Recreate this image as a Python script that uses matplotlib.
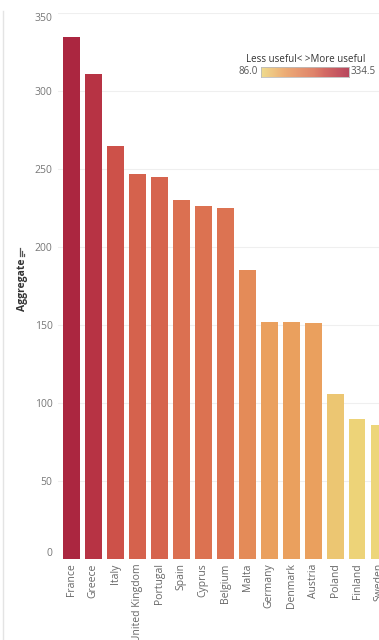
import matplotlib
matplotlib.use("Agg")
import matplotlib.pyplot as plt
from matplotlib.colors import LinearSegmentedColormap, Normalize
from matplotlib.lines import Line2D
import numpy as np

plt.rcParams['font.family'] = ['Open Sans', 'DejaVu Sans']

# data
countries = ["France", "Greece", "Italy", "United Kingdom", "Portugal", "Spain",
             "Cyprus", "Belgium", "Malta", "Germany", "Denmark", "Austria",
             "Poland", "Finland", "Sweden"]
aggregate = [334.5, 311, 265, 247, 245, 230, 226, 225, 185, 152, 152, 151,
             106, 90, 86.0]
y_ticks = [0, 50, 100, 150, 200, 250, 300, 350]
legend_title = "Less useful< >More useful"
vmin, vmax = 86.0, 334.5

# red-gold sequential palette
cmap = LinearSegmentedColormap.from_list("redgold", [
    (0.0, "#EDD67A"),
    (0.26, "#EAA05E"),
    (0.40, "#E48A58"),
    (0.60, "#DA6D50"),
    (0.72, "#CD5149"),
    (0.90, "#B83444"),
    (1.0, "#AB2640"),
])
norm = Normalize(vmin=vmin, vmax=vmax)

W, H = 379, 640
fig = plt.figure(figsize=(W / 100, H / 100), dpi=100)
ax = fig.add_axes([58 / W, 81 / H, 1 - 58 / W, (559 - 13) / H])

x = np.arange(len(countries))
ax.bar(x, aggregate, width=0.77, color=[cmap(norm(v)) for v in aggregate],
       zorder=2)

ax.set_xlim(-0.61, 13.93)
ax.set_ylim(0, 350)
ax.set_yticks(y_ticks)
ax.set_yticklabels([str(t) for t in y_ticks])
ax.set_xticks(x)
ax.set_xticklabels(countries, rotation=90)
ax.tick_params(axis='both', length=0, colors="#777777", labelsize=7.5)
ax.tick_params(axis='y', pad=4)
ax.tick_params(axis='x', pad=3, colors="#666666")
ylabs = ax.get_yticklabels()
ylabs[0].set_va('bottom')
ylabs[-1].set_va('top')

ax.grid(axis='y', color="#efefef", linewidth=0.8, zorder=0)
for s in ax.spines.values():
    s.set_visible(False)

# axis title with a small sort icon above it
fig.text(22 / W, 1 - 285 / H, "Aggregate", rotation=90, ha='center',
         va='center', fontsize=7.5, fontweight='bold', color="#333333")
for dx, top in [(-2, 248), (0, 251), (2, 254)]:
    fig.add_artist(Line2D([(22 + dx) / W] * 2, [1 - 256 / H, 1 - top / H],
                          color="#555555", linewidth=0.9))

# pane border on the left
fig.add_artist(Line2D([3 / W, 3 / W], [0, 1 - 11 / H], color="#e4e4e4",
                      linewidth=1))

# colour legend
fig.text(306 / W, 1 - 60 / H, legend_title, ha='center', va='center',
         fontsize=7, color="#333333")
cax = fig.add_axes([261 / W, 1 - 77 / H, (349 - 261) / W, 10 / H])
grad = np.linspace(vmin, vmax, 256).reshape(1, -1)
cax.imshow(grad, aspect='auto', cmap=cmap, norm=norm, alpha=0.85,
           extent=[vmin, vmax, 0, 1])
cax.set_xticks([])
cax.set_yticks([])
for s in cax.spines.values():
    s.set_color("#bbbbbb")
    s.set_linewidth(0.6)
fig.text(258 / W, 1 - 72 / H, f"{vmin:.1f}", ha='right', va='center',
         fontsize=7, color="#555555")
fig.text(351 / W, 1 - 72 / H, f"{vmax:.1f}", ha='left', va='center',
         fontsize=7, color="#555555")

fig.savefig("out.png", dpi=100)
